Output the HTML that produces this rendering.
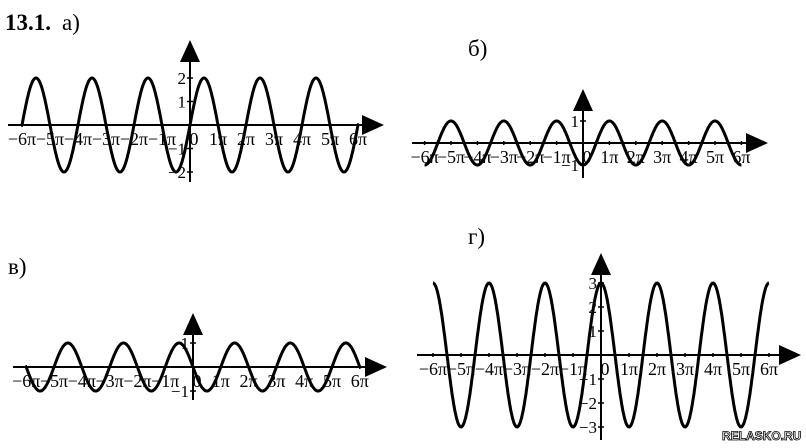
<!DOCTYPE html>
<html><head><meta charset="utf-8"><style>
html,body{margin:0;padding:0;background:#fff;}
svg{display:block;font-family:"Liberation Serif",serif;}
</style></head><body>
<svg id="s" width="806" height="448" viewBox="0 0 806 448" xmlns="http://www.w3.org/2000/svg">
<text x="5" y="30" font-size="23" font-weight="bold">13.1.</text>
<text x="62" y="30" font-size="23">а)</text>
<text x="468" y="56" font-size="23">б)</text>
<text x="8" y="274" font-size="23">в)</text>
<text x="468" y="244" font-size="23">г)</text>
<text x="722" y="440" font-size="12" font-weight="bold" fill="#fff" stroke="#000" stroke-width="0.8" font-family="Liberation Sans,sans-serif">RELASKO.RU</text>
</svg>
<script>
var s=document.getElementById('s'),NS='http://www.w3.org/2000/svg';
function el(t,a,txt){var e=document.createElementNS(NS,t);for(var k in a)e.setAttribute(k,a[k]);if(txt)e.textContent=txt;s.appendChild(e);return e;}
function graph(g){
 var ox=g.ox,ay=g.ay,u=g.u;
 el('line',{x1:g.xl,y1:ay,x2:g.xt-18,y2:ay,stroke:'#000','stroke-width':2});
 el('polygon',{points:(g.xt-22)+','+(ay-10)+' '+g.xt+','+ay+' '+(g.xt-22)+','+(ay+10),fill:'#000'});
 el('line',{x1:ox,y1:g.yb,x2:ox,y2:g.yt+18,stroke:'#000','stroke-width':2});
 el('polygon',{points:(ox-10)+','+(g.yt+22)+' '+ox+','+g.yt+' '+(ox+10)+','+(g.yt+22),fill:'#000'});
 var p=[];for(var i=0;i<=600;i++){var t=-6*Math.PI+12*Math.PI*i/600;p.push((ox+t/Math.PI*u).toFixed(1)+','+(ay-g.A*g.f(t)).toFixed(1));}
 el('polyline',{points:p.join(' '),fill:'none',stroke:'#000','stroke-width':3});
 for(var k=-6;k<=6;k++){
  var x=ox+k*u;
  el('line',{x1:x,y1:ay-2,x2:x,y2:ay+2,stroke:'#000','stroke-width':1.5});
  var lb=k==0?'0':(k<0?'−'+(-k)+'π':k+'π');
  el('text',{x:x+(k==0?4:0),y:ay+g.ly,'font-size':18,'text-anchor':'middle'},lb);
 }
 (g.yl||[]).forEach(function(v){el('text',{x:ox-4,y:ay-v[0]*g.A/v[1]+6,'font-size':17,'text-anchor':'end'},v[2]);
  el('line',{x1:ox-3,y1:ay-v[0]*g.A/v[1],x2:ox+3,y2:ay-v[0]*g.A/v[1],stroke:'#000','stroke-width':1.5});});
}
graph({ox:190,ay:125,u:28,A:47,xl:8,xt:384,yt:40,yb:182,ly:20,f:Math.sin,yl:[[2,2,'2'],[1,2,'1'],[-1,2,'−1'],[-2,2,'−2']]});
graph({ox:583,ay:143,u:26.4,A:22,xl:412,xt:768,yt:89,yb:178,ly:20,f:function(t){return -Math.cos(t)},yl:[[1,1,'1'],[-1,1,'−1']]});
graph({ox:193,ay:367,u:27.8,A:24,xl:13,xt:387,yt:313,yb:400,ly:20,f:function(t){return -Math.sin(t)},yl:[[1,1,'1'],[-1,1,'−1']]});
graph({ox:601,ay:355,u:28,A:72,xl:417,xt:801,yt:253,yb:440,ly:20,f:Math.cos,yl:[[3,3,'3'],[2,3,'2'],[1,3,'1'],[-1,3,'−1'],[-2,3,'−2'],[-3,3,'−3']]});
</script>
</body></html>
